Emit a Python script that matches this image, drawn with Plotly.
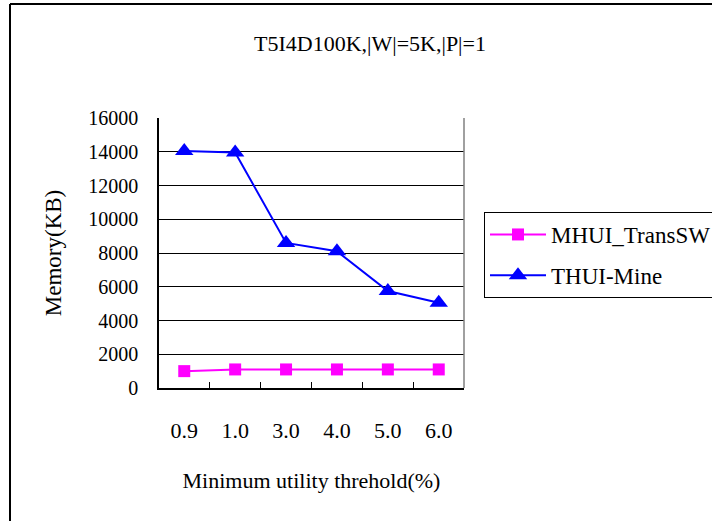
import plotly.graph_objects as go

# Minimum utility thresholds (%) shown as categories
thresholds = ["0.9", "1.0", "3.0", "4.0", "5.0", "6.0"]

# Memory usage in KB
mhui_transsw = [1000, 1100, 1100, 1100, 1100, 1100]
thui_mine = [14050, 13950, 8600, 8100, 5750, 5050]

y_ticks = [0, 2000, 4000, 6000, 8000, 10000, 12000, 14000, 16000]
y_tick_labels = [str(v) for v in y_ticks]

FONT = "Liberation Serif"

fig = go.Figure()
fig.add_trace(go.Scatter(
    x=thresholds, y=mhui_transsw, name="MHUI_TransSW", legendgroup="a",
    mode="lines+markers",
    line=dict(color="#FF00FF", width=2),
    marker=dict(symbol="square", size=12, color="#FF00FF"),
))
fig.add_trace(go.Scatter(
    x=thresholds, y=thui_mine, name="THUI-Mine", legendgroup="b",
    mode="lines+markers",
    line=dict(color="#0000FF", width=2),
    marker=dict(symbol="triangle-up", size=16, color="#0000FF"),
))

L, R, T, B = 159, 464, 118, 388
W, H = 712, 521
pw, ph = R - L, B - T

def px(x):
    return (x - L) / pw

def py(y):
    return (B - y) / ph

fig.update_layout(
    width=W, height=H,
    margin=dict(l=L, r=W - R, t=T, b=H - B, pad=0, autoexpand=False),
    paper_bgcolor="white", plot_bgcolor="white",
    font=dict(family=FONT, size=22, color="black"),
    title=dict(text="T5I4D100K,|W|=5K,|P|=1", x=370 / W, xanchor="center",
               y=1 - 43 / H, yanchor="middle",
               font=dict(family=FONT, size=22, color="black")),
    showlegend=True,
    legend=dict(x=px(484), y=py(212), xanchor="left", yanchor="top",
                bordercolor="black", borderwidth=1, bgcolor="white",
                font=dict(family=FONT, size=23, color="black"),
                traceorder="grouped", tracegroupgap=8, itemwidth=56),
    xaxis=dict(
        type="category", showgrid=False, zeroline=False, automargin=False,
        showline=True, linecolor="black", linewidth=1.5,
        ticks="inside", tickson="boundaries", ticklen=6, tickcolor="black",
        ticklabelstandoff=22,
        title=dict(text="Minimum utility threhold(%)", standoff=30,
                   font=dict(family=FONT, size=22)),
        tickfont=dict(family=FONT, size=22),
    ),
    yaxis=dict(
        range=[0, 16000], tickvals=y_ticks, ticktext=y_tick_labels,
        showgrid=True, gridcolor="black", gridwidth=1, automargin=False,
        zeroline=False, showline=True, linecolor="black", linewidth=1.5,
        ticks="", ticklabelstandoff=15,
        title=dict(text="Memory(KB)", standoff=20,
                   font=dict(family=FONT, size=23)),
        tickfont=dict(family=FONT, size=20),
    ),
    shapes=[
        # right edge of the plotting area
        dict(type="line", xref="paper", yref="paper", x0=1, x1=1, y0=0, y1=1,
             line=dict(color="#808080", width=1.5)),
        # outer chart frame
        dict(type="line", xref="paper", yref="paper",
             x0=px(10), x1=px(W + 5), y0=py(4), y1=py(4),
             line=dict(color="black", width=2)),
        dict(type="line", xref="paper", yref="paper",
             x0=px(10), x1=px(10), y0=py(4), y1=py(H + 5),
             line=dict(color="black", width=2)),
    ],
)

fig.write_html("out.html")
